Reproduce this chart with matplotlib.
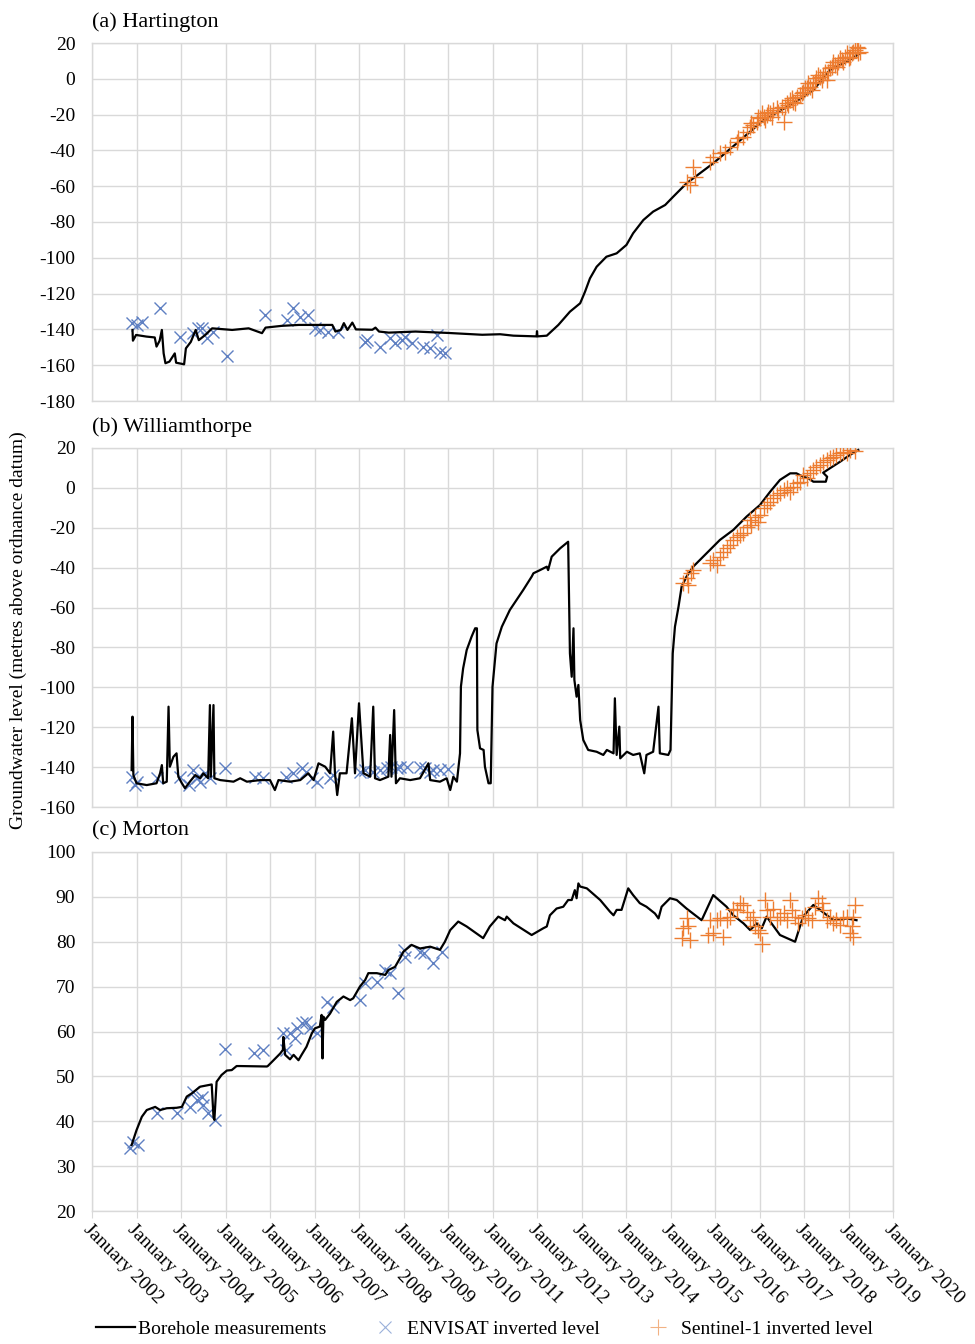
import numpy as np
import matplotlib
matplotlib.use("Agg")
import matplotlib.pyplot as plt
from matplotlib.lines import Line2D

plt.rcParams['font.family'] = ['Liberation Serif', 'DejaVu Serif']

# ---------------- data (decimal years, metres AOD) ----------------
# (a) Hartington
hart_bh_t = [2002.91, 2002.92, 2002.99, 2003.22, 2003.41, 2003.45, 2003.52, 2003.57, 2003.61, 2003.65,
             2003.74, 2003.86, 2003.89, 2004.07, 2004.11, 2004.22, 2004.33, 2004.40, 2004.55, 2004.70,
             2005.15, 2005.52, 2005.82, 2005.90, 2006.27, 2006.65, 2007.40, 2007.47, 2007.59, 2007.66,
             2007.74, 2007.85, 2007.93, 2008.30, 2008.37, 2008.45, 2008.67, 2009.27, 2010.02, 2010.77,
             2011.17, 2011.47, 2011.99, 2012.00, 2012.01, 2012.22, 2012.48, 2012.74, 2012.97, 2013.08,
             2013.19, 2013.34, 2013.56, 2013.79, 2014.01, 2014.16, 2014.39, 2014.61, 2014.88, 2015.06,
             2015.36, 2015.96, 2016.49, 2017.09, 2017.76, 2018.21, 2018.58, 2018.96, 2019.26]
hart_bh_v = [-140.3, -146.3, -143.1, -144.0, -144.5, -149.6, -146.3, -140.3, -153.4, -158.9,
             -158.0, -153.4, -158.6, -159.5, -150.6, -147.0, -140.3, -146.0, -143.0, -139.4,
             -140.3, -139.4, -142.1, -139.0, -138.0, -137.5, -137.5, -141.2, -140.3, -136.5,
             -140.3, -136.2, -140.0, -140.2, -139.0, -141.2, -141.8, -141.2, -142.0, -143.0,
             -142.7, -143.5, -143.9, -141.0, -143.9, -143.5, -137.5, -130.1, -125.4, -118.9,
             -111.5, -105.0, -99.4, -97.5, -92.8, -86.3, -78.9, -74.2, -70.5, -65.9,
             -58.4, -47.2, -36.0, -23.0, -13.7, -6.3, 4.9, 9.6, 14.2]

hart_env_t = [2002.89, 2003.00, 2003.12, 2003.53, 2003.98, 2004.28, 2004.39, 2004.47, 2004.58, 2004.73,
              2005.03, 2005.89, 2006.38, 2006.52, 2006.67, 2006.86, 2007.01, 2007.12, 2007.31, 2007.53,
              2008.13, 2008.17, 2008.47, 2008.70, 2008.81, 2008.96, 2009.03, 2009.18, 2009.44, 2009.60,
              2009.75, 2009.82, 2009.93]
hart_env_v = [-136.2, -137.5, -135.7, -128.2, -144.1, -142.2, -139.4, -139.4, -145.0, -141.3,
              -154.9, -132.0, -134.7, -128.2, -132.9, -132.0, -139.4, -140.3, -141.3, -141.3,
              -146.9, -145.9, -149.7, -145.0, -147.8, -145.9, -144.1, -147.8, -149.7, -150.6,
              -143.1, -152.5, -153.4]

hart_s1_t = [2015.36, 2015.44, 2015.51, 2015.55, 2015.89, 2015.96, 2016.11, 2016.22, 2016.34, 2016.49,
             2016.52, 2016.64, 2016.71, 2016.79, 2016.82, 2016.86, 2016.94, 2016.97, 2017.01, 2017.05,
             2017.09, 2017.12, 2017.16, 2017.20, 2017.24, 2017.27, 2017.31, 2017.39, 2017.42, 2017.50,
             2017.54, 2017.57, 2017.61, 2017.65, 2017.69, 2017.72, 2017.76, 2017.80, 2017.84, 2017.91,
             2017.95, 2017.98, 2018.02, 2018.06, 2018.10, 2018.13, 2018.17, 2018.21, 2018.25, 2018.28,
             2018.32, 2018.36, 2018.40, 2018.43, 2018.47, 2018.51, 2018.55, 2018.58, 2018.62, 2018.66,
             2018.70, 2018.74, 2018.77, 2018.81, 2018.85, 2018.88, 2018.92, 2018.96, 2019.00, 2019.03,
             2019.07, 2019.11, 2019.15, 2019.18, 2019.22, 2019.22, 2019.26]
hart_s1_v = [-57.5, -59.3, -49.1, -54.7, -46.3, -43.5, -41.6, -40.7, -37.9, -35.1,
             -33.3, -32.3, -29.5, -26.7, -24.9, -25.8, -24.0, -21.2, -22.1, -19.3,
             -21.2, -23.0, -20.2, -18.4, -19.3, -21.2, -17.4, -16.5, -18.4, -15.6,
             -24.0, -15.6, -13.7, -14.6, -11.8, -10.9, -12.8, -13.7, -10.0, -9.1,
             -8.1, -7.2, -5.3, -5.3, -2.5, -4.4, -6.3, -2.5, -1.6, 0.3,
             2.1, 1.2, -0.7, 2.1, 4.0, -0.7, 4.0, 5.8, 6.8, 9.6,
             7.7, 6.8, 9.6, 11.4, 10.5, 9.6, 12.4, 14.2, 11.4, 12.4,
             14.2, 15.1, 16.1, 18.0, 17.0, 14.2, 15.1]

# (b) Williamthorpe
will_bh_t = [2002.89, 2002.91, 2002.93, 2003.00, 2003.23, 2003.45, 2003.53, 2003.57, 2003.60, 2003.68,
             2003.72, 2003.75, 2003.83, 2003.90, 2003.94, 2004.02, 2004.09, 2004.20, 2004.32, 2004.43,
             2004.50, 2004.61, 2004.65, 2004.67, 2004.73, 2004.75, 2004.88, 2005.18, 2005.33, 2005.48,
             2005.78, 2006.00, 2006.11, 2006.19, 2006.45, 2006.68, 2006.86, 2006.98, 2007.09, 2007.24,
             2007.35, 2007.42, 2007.46, 2007.51, 2007.57, 2007.72, 2007.84, 2007.91, 2008.00, 2008.10,
             2008.25, 2008.32, 2008.36, 2008.47, 2008.66, 2008.70, 2008.73, 2008.79, 2008.83, 2008.92,
             2009.15, 2009.37, 2009.56, 2009.60, 2009.82, 2009.97, 2010.05, 2010.12, 2010.20, 2010.27,
             2010.29, 2010.34, 2010.42, 2010.53, 2010.61, 2010.65, 2010.66, 2010.72, 2010.80, 2010.83,
             2010.91, 2010.96, 2011.00, 2011.09, 2011.21, 2011.39, 2011.54, 2011.69, 2011.88, 2011.92,
             2012.07, 2012.22, 2012.25, 2012.33, 2012.52, 2012.70, 2012.74, 2012.78, 2012.82, 2012.84,
             2012.89, 2012.93, 2012.97, 2013.04, 2013.15, 2013.34, 2013.49, 2013.57, 2013.72, 2013.75,
             2013.79, 2013.85, 2013.87, 2014.02, 2014.16, 2014.31, 2014.41, 2014.46, 2014.61, 2014.73,
             2014.76, 2014.95, 2015.00, 2015.05, 2015.10, 2015.18, 2015.25, 2015.36, 2015.51, 2015.81,
             2016.11, 2016.41, 2016.71, 2017.01, 2017.24, 2017.46, 2017.69, 2017.83, 2017.98, 2018.10,
             2018.21, 2018.32, 2018.49, 2018.52, 2018.43, 2018.58, 2018.81, 2019.03, 2019.22]
will_bh_v = [-141.5, -114.7, -144.0, -148.1, -149.0, -148.1, -143.1, -139.0, -148.1, -147.3,
             -109.7, -139.8, -134.8, -133.1, -144.8, -148.1, -150.6, -147.3, -144.0, -145.6,
             -143.1, -145.6, -108.9, -144.8, -108.9, -145.6, -146.5, -147.3, -145.6, -147.3,
             -146.5, -146.5, -151.5, -146.5, -147.3, -146.5, -143.1, -146.5, -138.1, -139.8,
             -143.1, -122.2, -143.1, -154.0, -143.1, -143.1, -115.5, -143.1, -108.0, -143.1,
             -144.8, -109.7, -145.6, -146.5, -144.8, -123.9, -144.8, -111.4, -148.1, -145.6,
             -146.5, -145.6, -138.1, -146.5, -147.3, -145.6, -151.5, -144.8, -147.3, -133.1,
             -99.7, -90.5, -81.3, -74.6, -70.4, -70.4, -121.4, -130.6, -131.4, -139.8,
             -148.1, -148.1, -99.7, -78.0, -69.6, -61.2, -56.2, -51.2, -44.5, -42.8,
             -41.2, -39.5, -41.2, -34.5, -30.3, -27.0, -83.0, -94.7, -70.4, -96.3,
             -104.7, -98.8, -116.4, -126.4, -131.4, -132.3, -133.9, -131.4, -133.1, -105.5,
             -133.9, -119.7, -135.6, -132.3, -133.9, -133.1, -143.1, -133.9, -132.3, -109.7,
             -133.1, -133.9, -131.4, -83.0, -69.6, -59.6, -49.5, -44.5, -39.5, -32.8,
             -26.1, -21.1, -14.4, -8.6, -1.9, 4.0, 7.3, 7.3, 5.6, 4.8,
             3.1, 3.1, 3.1, 5.6, 7.6, 9.8, 13.1, 16.5, 19.0]

will_env_t = [2002.89, 2002.97, 2003.00, 2003.45, 2003.98, 2004.17, 2004.28, 2004.35, 2004.43, 2004.54,
              2004.65, 2004.99, 2005.66, 2005.85, 2006.37, 2006.52, 2006.71, 2006.82, 2006.94, 2007.05,
              2007.35, 2007.42, 2008.02, 2008.14, 2008.32, 2008.47, 2008.62, 2008.73, 2008.85, 2008.92,
              2009.07, 2009.37, 2009.48, 2009.60, 2009.67, 2009.82, 2010.01]
will_env_v = [-144.8, -149.0, -147.3, -145.6, -144.8, -149.0, -141.5, -145.6, -147.3, -143.1,
              -145.6, -140.6, -144.8, -145.6, -144.8, -143.1, -140.6, -142.3, -145.6, -147.3,
              -145.6, -143.9, -142.3, -141.5, -142.3, -141.5, -140.6, -139.8, -140.6, -139.8,
              -139.8, -139.8, -140.6, -142.3, -141.5, -141.5, -141.1]

will_s1_t = [2015.29, 2015.36, 2015.40, 2015.47, 2015.51, 2015.89, 2015.96, 2016.04, 2016.11, 2016.19,
             2016.26, 2016.34, 2016.41, 2016.49, 2016.56, 2016.64, 2016.71, 2016.79, 2016.82, 2016.90,
             2016.97, 2017.01, 2017.09, 2017.16, 2017.24, 2017.31, 2017.39, 2017.46, 2017.54, 2017.61,
             2017.69, 2017.76, 2017.84, 2017.91, 2017.98, 2018.06, 2018.13, 2018.21, 2018.28, 2018.36,
             2018.43, 2018.51, 2018.58, 2018.66, 2018.73, 2018.81, 2018.88, 2018.96, 2019.03, 2019.15]
will_s1_v = [-47.9, -45.4, -48.7, -42.8, -41.2, -37.8, -36.2, -38.7, -34.5, -32.0,
             -30.3, -28.6, -26.1, -24.5, -23.6, -22.8, -19.4, -16.1, -18.6, -14.4,
             -16.9, -13.6, -10.3, -8.6, -6.9, -5.2, -3.6, -2.7, -1.1, -0.2,
             -1.9, 0.6, 2.3, 3.1, 6.5, 4.8, 7.3, 9.0, 10.6, 11.5,
             13.1, 14.0, 14.8, 15.7, 16.5, 17.3, 18.2, 17.3, 19.0, 18.7]

# (c) Morton
mort_bh_t = [2002.89, 2003.00, 2003.12, 2003.23, 2003.42, 2003.53, 2003.68, 2003.90, 2004.02, 2004.13,
             2004.24, 2004.43, 2004.69, 2004.73, 2004.75, 2004.80, 2004.91, 2005.03, 2005.14, 2005.25,
             2005.33, 2005.93, 2005.95, 2006.08, 2006.23, 2006.29, 2006.30, 2006.34, 2006.45, 2006.53,
             2006.64, 2006.71, 2006.82, 2006.94, 2007.01, 2007.12, 2007.16, 2007.18, 2007.20, 2007.24,
             2007.35, 2007.50, 2007.65, 2007.80, 2007.87, 2008.02, 2008.14, 2008.21, 2008.40, 2008.59,
             2008.66, 2008.81, 2008.92, 2009.00, 2009.18, 2009.37, 2009.60, 2009.82, 2009.93, 2010.05,
             2010.23, 2010.42, 2010.79, 2010.94, 2011.13, 2011.28, 2011.32, 2011.47, 2011.88, 2012.14,
             2012.22, 2012.29, 2012.44, 2012.59, 2012.70, 2012.78, 2012.85, 2012.89, 2012.93, 2012.97,
             2013.12, 2013.42, 2013.64, 2013.72, 2013.79, 2013.90, 2014.05, 2014.16, 2014.31, 2014.46,
             2014.65, 2014.73, 2014.80, 2014.99, 2015.14, 2015.36, 2015.70, 2015.96, 2016.26, 2016.41,
             2016.64, 2016.79, 2016.94, 2017.05, 2017.16, 2017.46, 2017.80, 2017.98, 2018.21, 2018.36,
             2018.66, 2018.96, 2019.18]
mort_bh_v = [34.7, 38.0, 41.0, 42.5, 43.2, 42.5, 42.9, 43.0, 43.2, 45.5,
             46.2, 47.7, 48.2, 41.0, 40.3, 48.8, 50.3, 51.3, 51.4, 52.3,
             52.3, 52.2, 52.3, 53.6, 55.1, 55.9, 58.8, 54.8, 53.8, 54.8,
             53.6, 54.8, 56.6, 59.6, 60.7, 61.1, 63.7, 54.0, 63.3, 62.6,
             64.0, 66.6, 67.8, 67.0, 67.4, 70.0, 71.5, 73.0, 73.0, 72.6,
             73.7, 74.4, 76.3, 77.8, 79.3, 78.5, 78.9, 78.2, 80.0, 82.6,
             84.5, 83.4, 80.8, 83.4, 85.6, 84.8, 85.6, 84.1, 81.5, 83.0,
             83.4, 85.9, 87.4, 87.8, 89.3, 89.3, 91.5, 89.7, 93.0, 92.3,
             91.9, 89.3, 86.7, 85.9, 87.1, 87.1, 91.9, 90.4, 88.6, 87.8,
             86.3, 85.2, 87.8, 89.7, 89.3, 87.4, 84.8, 90.4, 87.8, 85.9,
             84.1, 82.6, 84.1, 83.0, 85.6, 81.5, 80.0, 85.6, 88.2, 87.1,
             84.8, 85.2, 84.8]

mort_env_t = [2002.85, 2002.93, 2003.04, 2003.45, 2003.90, 2004.20, 2004.28, 2004.35, 2004.47, 2004.50,
              2004.61, 2004.76, 2004.99, 2005.63, 2005.85, 2006.30, 2006.37, 2006.45, 2006.56, 2006.60,
              2006.71, 2006.82, 2006.90, 2007.05, 2007.27, 2007.42, 2008.02, 2008.14, 2008.40, 2008.58,
              2008.70, 2008.88, 2009.00, 2009.03, 2009.37, 2009.45, 2009.67, 2009.86]
mort_env_v = [33.95, 35.4, 34.7, 41.75, 41.75, 43.2, 46.6, 44.7, 45.5, 43.6,
              41.75, 40.3, 56.0, 55.1, 55.9, 59.6, 55.9, 59.6, 58.5, 60.7,
              61.8, 62.2, 60.7, 59.6, 66.6, 65.5, 67.0, 70.7, 71.1, 73.7,
              73.0, 68.5, 78.2, 76.7, 77.8, 77.4, 75.2, 77.8]

mort_s1_t = [2015.25, 2015.29, 2015.36, 2015.40, 2015.44, 2015.85, 2015.89, 2015.96, 2016.04, 2016.11,
             2016.19, 2016.26, 2016.34, 2016.41, 2016.49, 2016.56, 2016.64, 2016.71, 2016.79, 2016.86,
             2016.90, 2016.97, 2017.01, 2017.05, 2017.12, 2017.16, 2017.24, 2017.31, 2017.39, 2017.46,
             2017.54, 2017.61, 2017.69, 2017.72, 2017.80, 2017.87, 2017.95, 2018.02, 2018.10, 2018.17,
             2018.25, 2018.32, 2018.40, 2018.43, 2018.51, 2018.58, 2018.66, 2018.73, 2018.81, 2018.88,
             2018.96, 2019.03, 2019.07, 2019.11, 2019.11, 2019.15]
mort_s1_v = [80.75, 83.0, 85.2, 83.4, 80.4, 81.5, 84.8, 81.9, 84.8, 85.2,
             81.1, 84.8, 85.6, 87.4, 87.1, 88.6, 88.2, 86.7, 84.8, 85.6,
             83.4, 82.6, 81.9, 79.6, 89.3, 87.1, 85.6, 87.4, 84.8, 85.6,
             86.3, 84.8, 89.3, 87.1, 85.6, 84.1, 85.2, 86.0, 85.2, 84.8,
             87.8, 89.7, 88.6, 87.1, 84.8, 85.6, 84.1, 84.8, 83.7, 85.2,
             85.6, 81.9, 83.4, 85.6, 81.1, 88.2]

titles = ["(a) Hartington", "(b) Williamthorpe", "(c) Morton"]
years = list(range(2002, 2021))
xtick_labels = [f"January {y}" for y in years]
ylims = [(-180, 20), (-160, 20), (20, 100)]
ysteps = [20, 20, 10]
ylabel = "Groundwater level (metres above ordnance datum)"
legend_labels = ["Borehole measurements", "ENVISAT inverted level", "Sentinel-1 inverted level"]

series = [
    (hart_bh_t, hart_bh_v, hart_env_t, hart_env_v, hart_s1_t, hart_s1_v),
    (will_bh_t, will_bh_v, will_env_t, will_env_v, will_s1_t, will_s1_v),
    (mort_bh_t, mort_bh_v, mort_env_t, mort_env_v, mort_s1_t, mort_s1_v),
]

# ---------------- figure ----------------
W, H = 975, 1344
fig = plt.figure(figsize=(W / 100, H / 100), dpi=100)
left, right = 92 / W, 893 / W
boxes = [(43, 401), (448, 807), (852, 1211)]

BLUE = '#5F80C2'
ORANGE = '#ED7D31'
GRID = '#D9D9D9'

for i, ((top, bot), s) in enumerate(zip(boxes, series)):
    ax = fig.add_axes([left, 1 - bot / H, right - left, (bot - top) / H])
    bh_t, bh_v, env_t, env_v, s1_t, s1_v = s
    ax.plot(env_t, env_v, linestyle='none', marker='x', ms=9, mew=1.0, color=BLUE, zorder=3)
    ax.plot(bh_t, bh_v, color='black', lw=1.6, zorder=4)
    ax.plot(s1_t, s1_v, linestyle='none', marker='+', ms=11, mew=1.0, color=ORANGE, zorder=5)

    ax.set_xlim(2002, 2020)
    lo, hi = ylims[i]
    ax.set_ylim(lo, hi)
    ax.set_yticks(np.arange(lo, hi + 0.1, ysteps[i]))
    ax.set_yticklabels([f"{int(v)}" for v in np.arange(lo, hi + 0.1, ysteps[i])])
    ax.set_xticks(years)
    ax.grid(True, color=GRID, lw=1.0, zorder=0)
    ax.set_axisbelow(True)
    for sp in ax.spines.values():
        sp.set_color(GRID)
        sp.set_linewidth(1.0)
    ax.tick_params(axis='y', length=0, pad=12, labelsize=14)
    if i < 2:
        ax.tick_params(axis='x', length=0, labelbottom=False)
    else:
        ax.tick_params(axis='x', length=5, color=GRID, pad=2, labelsize=14)
        ax.set_xticklabels(xtick_labels, rotation=-45, ha='left', va='top',
                           rotation_mode='anchor')
    ax.annotate(titles[i], xy=(0, 1), xycoords='axes fraction', xytext=(0, 8),
                textcoords='offset points', ha='left', va='bottom', fontsize=16)

fig.text(18 / W, 1 - 630 / H, ylabel, rotation=90, ha='center', va='center', fontsize=14)

handles = [
    Line2D([], [], color='black', lw=1.6),
    Line2D([], [], linestyle='none', marker='x', ms=9, mew=0.8, color='#9AB0DA'),
    Line2D([], [], linestyle='none', marker='+', ms=11, mew=0.8, color='#F2B283'),
]
fig.legend(handles, legend_labels, loc='center', bbox_to_anchor=(0.497, 1 - 1329 / H),
           ncol=3, frameon=False, fontsize=14, handlelength=2.0, handletextpad=0.15,
           columnspacing=2.0)

fig.savefig("out.png", dpi=100)
